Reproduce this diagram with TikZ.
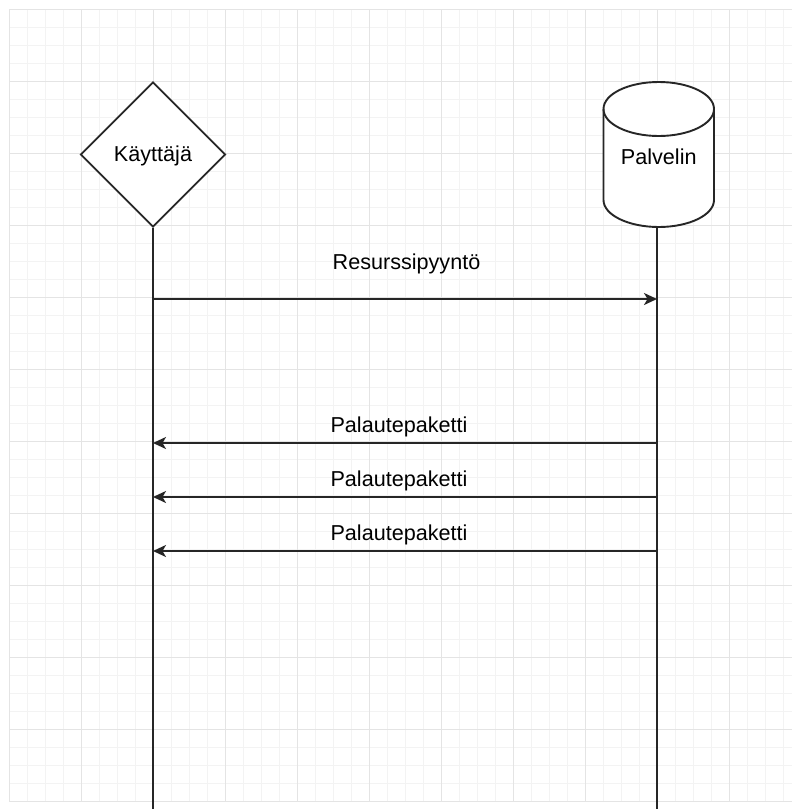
\documentclass[tikz,border=0pt]{standalone}
\usepackage{fontspec}
\setmainfont{Liberation Sans}
\usetikzlibrary{shapes.geometric,arrows.meta}
\definecolor{gridminor}{HTML}{F3F3F3}
\definecolor{gridmajor}{HTML}{E4E4E4}
\definecolor{ink}{HTML}{262626}
\tikzset{
  lbl/.style={font=\fontsize{21.6}{26}\selectfont, text=black, inner sep=0pt},
  shapeline/.style={draw=ink, line width=1.9pt, fill=white},
  lifeline/.style={draw=ink, line width=1.9pt},
  msg/.style={draw=ink, line width=1.9pt, -{Stealth[length=13pt,width=12pt,inset=3.5pt]}},
}
\begin{document}
\begin{tikzpicture}[x=1pt,y=-1pt]
\useasboundingbox (0,0) rectangle (792,809);
\fill[white] (0,0) rectangle (792,809);
% grid
\foreach \x in {9,27,...,792} \draw[gridminor, line width=1pt] (\x,9) -- (\x,801);
\foreach \y in {9,27,...,801} \draw[gridminor, line width=1pt] (9,\y) -- (792,\y);
\foreach \x in {9,81,...,792} \draw[gridmajor, line width=1pt] (\x,9) -- (\x,801);
\foreach \y in {9,81,...,801} \draw[gridmajor, line width=1pt] (9,\y) -- (792,\y);

% lifeline coordinates
\coordinate (userEnd) at (153,809);
\coordinate (serverTop) at (657,227);
\coordinate (serverEnd) at (657,809);

% user (diamond)
\node[diamond, shapeline, minimum width=145pt, minimum height=145pt, inner sep=0pt, shape aspect=1] (user) at (153,154.5) {};
\node[lbl] (userlbl) at (153,156) {Käyttäjä};

% server (cylinder)
\path[shapeline] (603.5,109) -- (603.5,200) arc[start angle=180, end angle=360, x radius=55.25pt, y radius=27pt]
  -- (714,109) arc[start angle=0, end angle=180, x radius=55.25pt, y radius=27pt] -- cycle;
\draw[draw=ink, line width=1.9pt] (603.5,109) arc[start angle=180, end angle=360, x radius=55.25pt, y radius=27pt];
\node[lbl] (server) at (658.75,157) {Palvelin};

% lifelines
\draw[lifeline] (user.south) -- (userEnd);
\draw[lifeline] (serverTop) -- (serverEnd);

% message points
\coordinate (u1) at (153,299); \coordinate (s1) at (657,299);
\coordinate (u2) at (153,443); \coordinate (s2) at (657,443);
\coordinate (u3) at (153,497); \coordinate (s3) at (657,497);
\coordinate (u4) at (153,551); \coordinate (s4) at (657,551);

\draw[msg] (u1) -- (s1);
\draw[msg] (s2) -- (u2);
\draw[msg] (s3) -- (u3);
\draw[msg] (s4) -- (u4);

\node[lbl] (m1) at (406.5,264) {Resurssipyyntö};
\node[lbl] (m2) at (399,426.5) {Palautepaketti};
\node[lbl] (m3) at (399,480.5) {Palautepaketti};
\node[lbl] (m4) at (399,534.5) {Palautepaketti};
\end{tikzpicture}
\end{document}
